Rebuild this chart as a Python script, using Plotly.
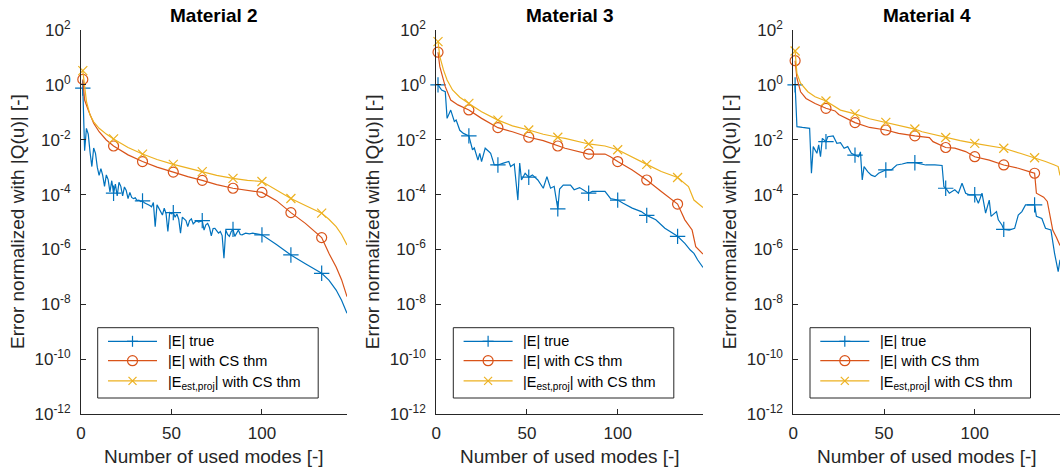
import plotly.graph_objects as go

# ---------------------------------------------------------------------------
# Data: error (normalized with |Q(u)|) versus number of used modes
# ---------------------------------------------------------------------------
marker_modes = [1, 18, 34, 51, 67, 84, 100, 116, 133]

# Material 2
m2_true_x = [1, 2, 3, 4, 5, 6, 7, 8, 9, 10, 11, 12, 13, 14, 15, 16, 17, 18, 19, 20,
             21, 22, 23, 24, 25, 26, 27, 28, 29, 30, 31, 32, 33, 34, 35, 36, 37, 38, 39, 40,
             41, 42, 43, 44, 45, 46, 47, 48, 49, 50, 51, 52, 53, 54, 55, 56, 57, 58, 59, 60,
             61, 62, 63, 64, 65, 66, 67, 68, 69, 70, 71, 72, 73, 74, 75, 76, 77, 78, 79, 80,
             81, 82, 83, 84, 85, 86, 87, 88, 89, 91, 93, 95, 97, 100, 108, 116, 124, 133,
             137, 141, 144, 147]
m2_true_y = [0.76, 4.0e-3, 2.6e-2, 1.6e-2, 3.5e-3, 1.05e-3, 5.0e-3, 3.2e-3, 1.0e-3, 5.0e-4,
             8.9e-4, 5.0e-4, 2.0e-4, 5.2e-4, 3.5e-4, 1.26e-4, 3.2e-4, 1.12e-4, 2.4e-4, 8.9e-5,
             2.8e-4, 2.0e-4, 8.9e-5, 1.9e-4, 1.4e-4, 7.1e-5, 1.2e-4, 7.9e-5, 7.1e-5, 7.6e-5,
             6.0e-5, 6.3e-5, 5.6e-5, 5.9e-5, 5.0e-5, 4.7e-5, 4.2e-5, 4.0e-5, 3.6e-5, 5.1e-5,
             6.8e-6, 4.2e-5, 3.2e-5, 2.4e-5, 1.8e-5, 3.2e-5, 2.0e-5, 4.5e-6, 2.2e-5, 2.0e-5,
             2.2e-5, 1.5e-5, 1.95e-5, 1.26e-5, 3.9e-6, 1.5e-5, 1.26e-5, 1.12e-5, 6.8e-6, 1.12e-5,
             1.3e-5, 8.5e-6, 1.0e-5, 1.12e-5, 1.0e-5, 1.05e-5, 1.12e-5, 5.1e-6, 7.9e-6, 8.9e-6,
             6.3e-6, 3.1e-6, 5.8e-6, 5.9e-6, 5.0e-6, 3.9e-6, 4.5e-6, 3.2e-6, 4.8e-7, 5.1e-6,
             3.5e-6, 3.0e-6, 4.5e-6, 5.4e-6, 3.0e-6, 4.0e-6, 5.1e-6, 3.5e-6, 3.4e-6, 3.9e-6,
             3.7e-6, 3.9e-6, 3.6e-6, 3.4e-6, 1.5e-6, 6.3e-7, 3.0e-7, 1.35e-7, 7.6e-8, 3.3e-8,
             1.4e-8, 4.7e-9]
m2_cs_x = [1, 2, 4, 7, 10, 14, 18, 26, 34, 42, 51, 59, 67, 75, 84, 92, 100, 108, 116, 124,
           133, 137, 141, 144, 147]
m2_cs_y = [1.58, 0.28, 0.12, 0.040, 0.0195, 9.8e-3, 5.9e-3, 2.8e-3, 1.6e-3, 1.0e-3,
           6.6e-4, 4.5e-4, 3.3e-4, 2.3e-4, 1.7e-4, 1.4e-4, 1.2e-4, 6.0e-5, 2.2e-5, 8.9e-6,
           2.7e-6, 7.2e-7, 2.3e-7, 7.9e-8, 1.9e-8]
m2_est_x = [1, 2, 3, 5, 7, 10, 14, 18, 26, 34, 42, 51, 59, 67, 75, 84, 92, 100, 108, 116,
            124, 133, 137, 141, 144, 147]
m2_est_y = [3.3, 0.85, 0.25, 0.079, 0.045, 0.026, 0.016, 0.0107, 5.2e-3, 3.0e-3,
            1.9e-3, 1.26e-3, 9.1e-4, 6.9e-4, 5.0e-4, 3.9e-4, 3.3e-4, 3.0e-4, 1.5e-4, 7.2e-5,
            4.0e-5, 2.1e-5, 1.26e-5, 6.8e-6, 3.5e-6, 1.45e-6]

# Material 3
m3_true_x = [1, 2, 3, 5, 6, 8, 10, 11, 13, 15, 18, 20, 21, 23, 24, 25, 27, 29, 30, 32,
             34, 37, 40, 41, 43, 45, 46, 47, 49, 51, 53, 56, 59, 61, 63, 65, 67, 68, 70, 74,
             76, 79, 84, 86, 93, 96, 100, 103, 108, 113, 116, 121, 126, 133, 137, 140, 142,
             144, 147]
m3_true_y = [1.0, 0.79, 0.65, 0.56, 0.060, 0.12, 0.046, 0.052, 0.022, 0.017,
             0.0138, 4.3e-3, 5.0e-3, 1.8e-3, 3.2e-3, 1.6e-3, 4.9e-3, 3.7e-3, 3.2e-3, 1.2e-3,
             1.2e-3, 1.4e-3, 1.6e-3, 1.05e-3, 1.3e-3, 6.3e-5, 1.4e-3, 3.4e-4, 6.0e-4, 4.3e-4,
             5.2e-4, 3.4e-4, 1.7e-4, 4.5e-4, 1.7e-4, 2.0e-4, 3.0e-5, 1.6e-4, 2.2e-4, 2.2e-4,
             1.5e-4, 1.8e-4, 1.12e-4, 1.3e-4, 1.3e-4, 7.2e-5, 6.3e-5, 4.8e-5, 3.2e-5, 2.4e-5,
             1.74e-5, 1.2e-5, 5.9e-6, 3.0e-6, 1.66e-6, 9.5e-7, 7.2e-7, 4.2e-7, 2.2e-7]
m3_cs_x = [1, 2, 5, 8, 12, 18, 25, 34, 42, 51, 59, 67, 71, 84, 93, 96, 100, 108, 116, 124,
           133, 137, 141, 143, 147]
m3_cs_y = [15.5, 4.6, 0.86, 0.28, 0.186, 0.122, 0.060, 0.0275, 0.0195, 0.0123,
           9.3e-3, 5.9e-3, 4.9e-3, 3.0e-3, 3.0e-3, 2.4e-3, 1.6e-3, 7.9e-4, 3.4e-4, 1.3e-4,
           4.5e-5, 1.2e-5, 5.1e-6, 1.26e-6, 6.8e-7]
m3_est_x = [1, 2, 4, 6, 9, 13, 18, 25, 34, 42, 51, 59, 67, 71, 84, 89, 93, 100, 108, 116,
            124, 133, 139, 142, 147]
m3_est_y = [37.6, 10.7, 3.5, 1.5, 0.65, 0.355, 0.21, 0.105, 0.052, 0.032,
            0.0226, 0.0158, 0.0123, 0.0112, 7.0e-3, 6.5e-3, 5.9e-3, 4.3e-3, 2.4e-3, 1.26e-3,
            6.9e-4, 4.2e-4, 1.95e-4, 6.3e-5, 3.4e-5]

# Material 4
m4_true_x = [1, 2, 5, 9, 10, 11, 13, 14, 15, 16, 18, 19, 22, 24, 26, 28, 30, 32, 34, 36,
             37, 38, 39, 41, 43, 45, 47, 51, 54, 57, 60, 63, 67, 71, 73, 78, 82, 83, 84, 86,
             89, 91, 93, 95, 97, 100, 102, 104, 106, 108, 109, 112, 113, 115, 116, 119, 122,
             124, 126, 128, 133, 134, 137, 139, 142, 144, 146, 147]
m4_true_y = [1.0, 0.030, 0.028, 0.026, 6.0e-4, 5.6e-3, 3.2e-3, 6.5e-3, 2.4e-3, 0.0112,
             8.5e-3, 0.0129, 0.0138, 7.4e-3, 7.8e-3, 4.9e-3, 5.6e-3, 3.2e-3, 2.75e-3, 2.4e-3,
             3.6e-3, 3.4e-4, 1.05e-3, 6.9e-4, 5.1e-4, 4.5e-4, 6.0e-4, 7.9e-4, 7.9e-4, 1.2e-3,
             1.3e-3, 1.45e-3, 1.45e-3, 1.3e-3, 1.2e-3, 1.2e-3, 1.15e-3, 1.95e-4, 1.7e-4, 1.12e-4,
             1.5e-4, 1.12e-4, 2.6e-4, 1.12e-4, 9.8e-5, 9.8e-5, 4.8e-5, 1.12e-4, 2.1e-5, 6.3e-5,
             1.6e-5, 2.4e-5, 1.2e-5, 7.8e-6, 5.4e-6, 5.1e-6, 5.9e-6, 1.8e-5, 2.4e-5, 4.2e-5,
             4.2e-5, 1.6e-5, 1.35e-5, 5.9e-6, 5.1e-6, 7.2e-7, 1.55e-7, 4.2e-7]
m4_cs_x = [1, 2, 4, 7, 12, 18, 23, 25, 34, 42, 51, 58, 67, 72, 75, 77, 84, 89, 95, 100,
           108, 116, 124, 130, 133, 134, 138, 140, 142, 143, 145, 147]
m4_cs_y = [7.6, 1.74, 0.56, 0.32, 0.21, 0.14, 0.112, 0.083, 0.042, 0.028,
           0.0226, 0.017, 0.0138, 0.0129, 0.012, 8.5e-3, 5.2e-3, 4.9e-3, 3.7e-3, 2.4e-3,
           1.8e-3, 1.2e-3, 9.1e-4, 6.9e-4, 6.0e-4, 1.12e-4, 8.0e-5, 5.6e-5, 1.26e-5, 5.1e-6,
           2.8e-6, 1.4e-6]
m4_est_x = [1, 2, 4, 8, 12, 18, 26, 34, 42, 51, 58, 67, 71, 84, 92, 100, 108, 116, 125, 133,
            139, 144, 146, 147]
m4_est_y = [17.2, 2.6, 1.15, 0.56, 0.37, 0.257, 0.12, 0.087, 0.058, 0.043,
            0.032, 0.0245, 0.0195, 0.012, 9.3e-3, 7.4e-3, 5.9e-3, 4.9e-3, 3.2e-3, 2.2e-3,
            1.6e-3, 1.2e-3, 1.05e-3, 5.0e-4]

panel_titles = ["Material 2", "Material 3", "Material 4"]
series_names = ["|E| true", "|E| with CS thm", "|E<sub>est,proj</sub>| with CS thm"]
x_ticks = [0, 50, 100]
y_ticks = [1e2, 1e0, 1e-2, 1e-4, 1e-6, 1e-8, 1e-10, 1e-12]
y_tick_text = ["10<sup>2</sup>", "10<sup>0</sup>", "10<sup>-2</sup>", "10<sup>-4</sup>",
               "10<sup>-6</sup>", "10<sup>-8</sup>", "10<sup>-10</sup>", "10<sup>-12</sup>"]

panels = [
    [(m2_true_x, m2_true_y), (m2_cs_x, m2_cs_y), (m2_est_x, m2_est_y)],
    [(m3_true_x, m3_true_y), (m3_cs_x, m3_cs_y), (m3_est_x, m3_est_y)],
    [(m4_true_x, m4_true_y), (m4_cs_x, m4_cs_y), (m4_est_x, m4_est_y)],
]

# ---------------------------------------------------------------------------
# Styling
# ---------------------------------------------------------------------------
W, H = 1062, 473
FONT = "Liberation Sans, Arial, Helvetica, sans-serif"
AX = "#262626"
COLORS = ["#0072BD", "#D95319", "#EDB120"]
SYMBOLS = ["cross-thin", "circle-open", "x-thin"]
SIZES = [11, 10, 9]
LW = 1.2

# plot-area edges in pixels
plot_left = [81.0, 436.2, 793.3]
plot_right = [347.0, 703.0, 1060.0]
plot_top, plot_bottom = 30.0, 414.0

# legend box geometry in pixels (per panel left edge, shared rows)
legend_left = [97.7, 453.3, 810.0]
legend_width = 220.5
legend_top, legend_bottom = 327.7, 398.0
legend_rows = [341.3, 360.7, 380.8]
legend_text_rows = [341.3, 360.7, 383.3]
legend_line = (10.3, 59.3)
legend_text_dx = 68.0
LEGEND_FONT = 14.5


def px(x):
    return x / W


def py(y):
    return 1 - y / H


def seg(x0, y0, x1, y1, color, width=LW):
    return dict(type="line", xref="paper", yref="paper", layer="above",
                x0=px(x0), y0=py(y0), x1=px(x1), y1=py(y1),
                line=dict(color=color, width=width))


def legend_glyph(kind, cx, cy, color):
    if kind == 0:      # plus
        return [seg(cx - 5.5, cy, cx + 5.5, cy, color), seg(cx, cy - 5.5, cx, cy + 5.5, color)]
    if kind == 1:      # open circle
        return [dict(type="circle", xref="paper", yref="paper", layer="above",
                     x0=px(cx - 5), y0=py(cy - 5), x1=px(cx + 5), y1=py(cy + 5),
                     line=dict(color=color, width=LW), fillcolor="rgba(0,0,0,0)")]
    return [seg(cx - 4, cy - 4, cx + 4, cy + 4, color), seg(cx - 4, cy + 4, cx + 4, cy - 4, color)]


fig = go.Figure()
layout = dict(
    width=W, height=H, autosize=False, showlegend=False,
    margin=dict(l=0, r=0, t=0, b=0, pad=0, autoexpand=False),
    paper_bgcolor="white", plot_bgcolor="white",
    font=dict(family=FONT, color=AX),
    annotations=[], shapes=[],
)

for p, series in enumerate(panels):
    sfx = "" if p == 0 else str(p + 1)
    xa, ya = "x" + sfx, "y" + sfx

    for s, (xs, ys) in enumerate(series):
        line = dict(color=COLORS[s], width=LW)
        mk = dict(symbol=SYMBOLS[s], size=SIZES[s], color=COLORS[s],
                  line=dict(color=COLORS[s], width=LW))
        fig.add_trace(go.Scatter(x=xs, y=ys, mode="lines", line=line, name=series_names[s],
                                 xaxis=xa, yaxis=ya, hoverinfo="skip"))
        idx = [xs.index(m) for m in marker_modes]
        fig.add_trace(go.Scatter(x=[xs[i] for i in idx], y=[ys[i] for i in idx],
                                 mode="markers", marker=mk, cliponaxis=False,
                                 name=series_names[s], xaxis=xa, yaxis=ya))

    layout["xaxis" + sfx] = dict(
        domain=[px(plot_left[p]), px(plot_right[p])], anchor=ya,
        range=[0, 147], tickvals=x_ticks, ticks="inside", ticklen=5,
        tickcolor=AX, showline=True, linecolor=AX, linewidth=1,
        showgrid=False, zeroline=False, tickfont=dict(size=17, color=AX),
        ticklabelstandoff=4, automargin=False,
    )
    layout["yaxis" + sfx] = dict(
        domain=[py(plot_bottom), py(plot_top)], anchor=xa,
        type="log", range=[-12, 2], tickvals=y_ticks, ticktext=y_tick_text,
        ticks="inside", ticklen=5, tickcolor=AX, showline=True, linecolor=AX,
        linewidth=1, showgrid=False, zeroline=False,
        tickfont=dict(size=17, color=AX), ticklabelstandoff=6, automargin=False,
    )

    # legend: framed box with line + marker samples and labels
    bl = legend_left[p]
    layout["shapes"].append(dict(
        type="rect", xref="paper", yref="paper", layer="above",
        x0=px(bl), x1=px(bl + legend_width), y0=py(legend_bottom), y1=py(legend_top),
        line=dict(color=AX, width=1), fillcolor="white"))
    for s in range(3):
        ry = legend_rows[s]
        x0, x1 = bl + legend_line[0], bl + legend_line[1]
        layout["shapes"].append(seg(x0, ry, x1, ry, COLORS[s]))
        layout["shapes"] += legend_glyph(s, (x0 + x1) / 2, ry, COLORS[s])
        layout["annotations"].append(dict(
            text=series_names[s], x=px(bl + legend_text_dx), y=py(legend_text_rows[s]),
            xref="paper", yref="paper", showarrow=False,
            xanchor="left", yanchor="middle",
            font=dict(size=LEGEND_FONT, color="#000000", family=FONT)))

    cx = px((plot_left[p] + plot_right[p]) / 2)
    layout["annotations"] += [
        dict(text="<b>" + panel_titles[p] + "</b>", x=cx, y=py(15),
             xref="paper", yref="paper", showarrow=False,
             xanchor="center", yanchor="middle",
             font=dict(size=19, color="#000000", family=FONT)),
        dict(text="Number of used modes [-]", x=cx, y=py(456),
             xref="paper", yref="paper", showarrow=False,
             xanchor="center", yanchor="middle",
             font=dict(size=19, color=AX, family=FONT)),
        dict(text="Error normalized with |Q(u)| [-]", x=px(plot_left[p] - 64),
             y=py(222), xref="paper", yref="paper", showarrow=False,
             textangle=-90, xanchor="center", yanchor="middle",
             font=dict(size=19, color=AX, family=FONT)),
    ]

fig.update_layout(**layout)

# keep the page exactly the size of the figure
page_css = ("document.documentElement.style.margin='0';"
            "document.documentElement.style.overflow='hidden';"
            "document.body.style.margin='0';"
            "document.body.style.padding='0';"
            "document.body.style.overflow='hidden';")
fig.write_html("out.html", post_script=page_css)
